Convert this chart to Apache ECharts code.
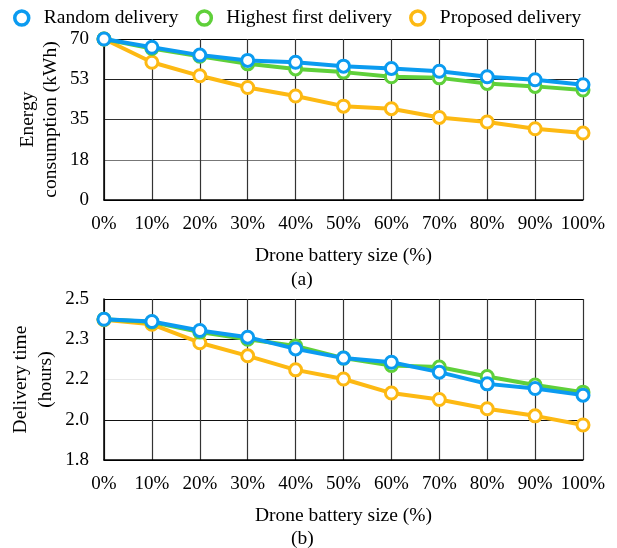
<!DOCTYPE html>
<html>
<head>
<meta charset="utf-8">
<script src="https://cdn.jsdelivr.net/npm/echarts@6/dist/echarts.min.js"></script>
<style>
  html, body { margin: 0; padding: 0; background: #fff; }
  #chart { width: 617px; height: 548px; }
</style>
</head>
<body>
<div id="chart"></div>
<script>
// Battery size steps shared by both panels
const batterySizes = ['0%', '10%', '20%', '30%', '40%', '50%', '60%', '70%', '80%', '90%', '100%'];

// (a) Energy consumption, kWh
const energyRandom   = [70, 66.4, 63.0, 60.7, 59.9, 58.2, 57.2, 56.0, 53.6, 52.3, 50.1];
const energyHighest  = [70, 65.9, 62.5, 59.2, 57.0, 55.6, 53.6, 53.1, 50.7, 49.4, 47.8];
const energyProposed = [70, 59.9, 54.0, 48.9, 45.2, 40.8, 39.7, 35.9, 33.9, 31.0, 29.1];

// (b) Delivery time, hours
const timeRandom   = [2.412, 2.402, 2.363, 2.334, 2.283, 2.243, 2.225, 2.182, 2.131, 2.111, 2.082];
const timeHighest  = [2.412, 2.400, 2.356, 2.325, 2.296, 2.243, 2.211, 2.204, 2.163, 2.126, 2.095];
const timeProposed = [2.410, 2.390, 2.310, 2.253, 2.192, 2.152, 2.091, 2.063, 2.023, 1.992, 1.952];

const seriesNames = ['Random delivery', 'Highest first delivery', 'Proposed delivery'];
const colors = ['#0b9bf0', '#5fd03a', '#fdb913'];

const FONT = '"Liberation Serif", "Times New Roman", serif';
const TICK_SIZE = 19;
const NAME_SIZE = 19.5;

const chart = echarts.init(document.getElementById('chart'), null, { renderer: 'canvas' });

function makeLine(name, data, color, axisIdx, z) {
  return {
    name: name,
    type: 'line',
    xAxisIndex: axisIdx,
    yAxisIndex: axisIdx,
    data: data,
    z: z,
    symbol: 'circle',
    symbolSize: 12,
    showAllSymbol: true,
    lineStyle: { color: color, width: 4 },
    itemStyle: { color: '#fff', borderColor: color, borderWidth: 3 },
    emphasis: { disabled: true },
    animation: false
  };
}

function xAxisDef(gridIndex) {
  return {
    type: 'category',
    gridIndex: gridIndex,
    data: batterySizes,
    boundaryGap: false,
    name: 'Drone battery size (%)',
    nameLocation: 'middle',
    nameGap: 46,
    nameMoveOverlap: false,
    nameTextStyle: { fontFamily: FONT, fontSize: NAME_SIZE, color: '#000' },
    axisLine: { show: true, lineStyle: { color: '#000', width: 1.5 } },
    axisTick: { show: false },
    axisLabel: { interval: 0, fontFamily: FONT, fontSize: TICK_SIZE, color: '#000', margin: 15 },
    splitLine: { show: true, interval: 0, lineStyle: { color: '#333', width: 1.2 } }
  };
}

// one-decimal labels with half-up rounding
const oneDecimal = v => (Math.round(v * 10 + 1e-6) / 10).toFixed(1);

const option = {
  backgroundColor: '#fff',
  animation: false,
  legend: {
    top: 3,
    left: 8,
    itemGap: 17,
    itemWidth: 14,
    itemHeight: 14,
    icon: 'circle',
    textStyle: { fontFamily: FONT, fontSize: NAME_SIZE, color: '#000', padding: [0, 0, 0, 10] },
    data: seriesNames.map((n, i) => ({
      name: n,
      itemStyle: { color: '#fff', borderColor: colors[i], borderWidth: 3.5 }
    }))
  },
  title: [
    { text: '(a)', left: 291, top: 270, padding: 0,
      textStyle: { fontFamily: FONT, fontSize: NAME_SIZE, fontWeight: 'normal', color: '#000' } },
    { text: '(b)', left: 291, top: 529, padding: 0,
      textStyle: { fontFamily: FONT, fontSize: NAME_SIZE, fontWeight: 'normal', color: '#000' } }
  ],
  grid: [
    { left: 104, right: 34, top: 39, height: 161, outerBoundsMode: 'none', containLabel: false },
    { left: 104, right: 34, top: 299, height: 161, outerBoundsMode: 'none', containLabel: false }
  ],
  xAxis: [xAxisDef(0), xAxisDef(1)],
  yAxis: [
    {
      type: 'value',
      gridIndex: 0,
      min: 0, max: 70, interval: 17.5,
      name: 'Energy\nconsumption (kWh)',
      nameLocation: 'middle',
      nameGap: 42,
      nameMoveOverlap: false,
      nameTextStyle: { fontFamily: FONT, fontSize: NAME_SIZE, color: '#000', lineHeight: 23 },
      axisLine: { show: true, lineStyle: { color: '#000', width: 1.5 } },
      axisTick: { show: false },
      axisLabel: { fontFamily: FONT, fontSize: TICK_SIZE, color: '#000', margin: 15,
        formatter: v => Math.round(v) },
      splitLine: { show: true, lineStyle: { color: ['#000', '#777', '#333', '#222', '#000'], width: 1.2 } }
    },
    {
      type: 'value',
      gridIndex: 1,
      min: 1.8, max: 2.5, interval: 0.175,
      name: 'Delivery time\n(hours)',
      nameLocation: 'middle',
      nameGap: 46,
      nameMoveOverlap: false,
      nameTextStyle: { fontFamily: FONT, fontSize: NAME_SIZE, color: '#000', lineHeight: 25 },
      axisLine: { show: true, lineStyle: { color: '#000', width: 1.5 } },
      axisTick: { show: false },
      axisLabel: { fontFamily: FONT, fontSize: TICK_SIZE, color: '#000', margin: 15,
        formatter: oneDecimal },
      splitLine: { show: true, lineStyle: { color: ['#000', '#111', '#e8e8e8', '#111', '#000'], width: 1.2 } }
    }
  ],
  series: [
    makeLine(seriesNames[2], energyProposed, colors[2], 0, 3),
    makeLine(seriesNames[1], energyHighest, colors[1], 0, 4),
    makeLine(seriesNames[0], energyRandom, colors[0], 0, 5),
    makeLine(seriesNames[2], timeProposed, colors[2], 1, 3),
    makeLine(seriesNames[1], timeHighest, colors[1], 1, 4),
    makeLine(seriesNames[0], timeRandom, colors[0], 1, 5)
  ]
};

chart.setOption(option);
</script>
</body>
</html>
